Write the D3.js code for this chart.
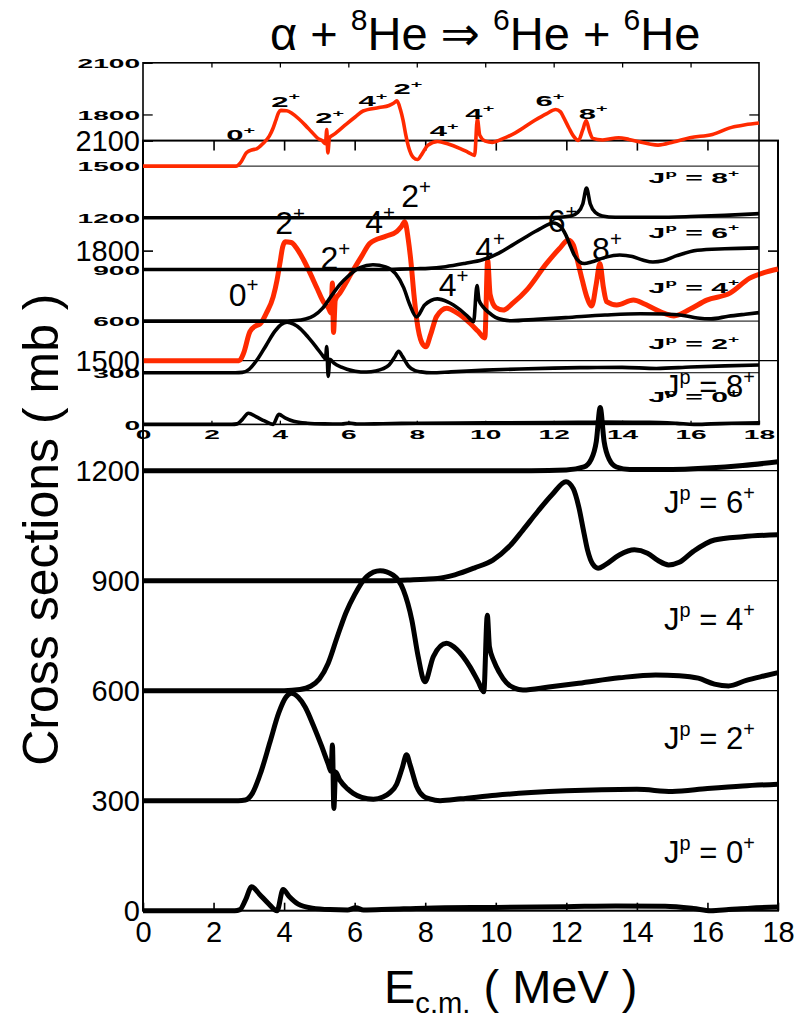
<!DOCTYPE html>
<html><head><meta charset="utf-8">
<script src="https://cdn.jsdelivr.net/npm/d3@7"></script>
<style>body{margin:0;background:#fff}svg{display:block}text{font-family:"Liberation Sans",Arial,"DejaVu Sans",sans-serif;fill:#000}</style>
</head><body><svg id="c" width="803" height="1020"></svg>
<script>
// ---------- data ----------
const energyTicks = [0,2,4,6,8,10,12,14,16,18];
const crossTicks = [0,300,600,900,1200,1500,1800,2100];
const baselines = [300,600,900,1200,1500];

// [E (MeV), sigma (mb, offset)]
const wave0 = [[0,0],[2.6,0],[2.75,3],[2.9,28],[3.08,65],[3.3,45],[3.55,20],[3.8,0],[3.97,58],[4.15,38],[4.4,18],[4.8,7],[5.3,3],[5.8,2],[6.03,8],[6.25,2],[7,4],[8,7],[10,9],[12,11],[13.4,13],[14.8,12],[15.6,6],[16.1,0],[16.6,3],[17.2,7],[18,10]];
const wave2 = [[0,300],[2.7,300],[2.9,302],[3.1,320],[3.35,380],[3.6,460],[3.85,540],[4.05,582],[4.21,593],[4.4,582],[4.6,555],[4.83,505],[5.05,452],[5.25,400],[5.33,380],[5.37,452],[5.41,279],[5.46,378],[5.58,356],[5.8,332],[5.96,320],[6.2,309],[6.53,304],[6.8,310],[7.0,322],[7.19,345],[7.35,390],[7.47,425],[7.58,395],[7.76,338],[7.95,312],[8.13,305],[8.42,300],[9,305],[10,315],[11,322],[12,327],[13,330],[14,331],[15,325],[16,333],[17,340],[18,345]];
const wave4 = [[0,600],[4.0,600],[4.45,603],[4.75,612],[5.0,632],[5.25,675],[5.5,745],[5.75,812],[6.0,862],[6.34,911],[6.72,927],[7.09,915],[7.38,875],[7.62,793],[7.8,693],[7.99,624],[8.23,693],[8.6,729],[8.9,712],[9.27,665],[9.5,625],[9.66,597],[9.76,806],[9.82,720],[9.95,680],[10.1,650],[10.3,622],[10.53,607],[10.77,602],[11.5,610],[12.35,620],[13.5,635],[14.53,643],[15.2,641],[15.74,634],[16.2,618],[16.6,613],[17.1,628],[17.6,640],[18,649]];
const wave6 = [[0,900],[7.0,900],[7.5,902],[8.0,904],[8.35,906],[8.84,916],[9.4,935],[9.92,956],[10.4,995],[10.77,1038],[11.2,1090],[11.6,1135],[11.99,1170],[12.2,1150],[12.35,1102],[12.5,1030],[12.6,984],[12.75,945],[12.9,934],[13.1,943],[13.5,970],[13.93,984],[14.3,975],[14.6,955],[14.9,943],[15.2,950],[15.6,980],[16.2,1011],[17,1020],[18,1025]];
const wave8 = [[0,1200],[11,1200],[12,1202],[12.5,1210],[12.7,1230],[12.85,1280],[12.96,1372],[13.07,1280],[13.22,1230],[13.42,1210],[13.8,1203],[15,1203],[16,1207],[17,1214],[18,1224]];
const total = [[0,1500],[2.72,1500],[2.85,1520],[3.03,1579],[3.2,1595],[3.32,1600],[3.5,1630],[3.69,1674],[3.8,1720],[3.88,1765],[3.96,1810],[4.03,1824],[4.2,1822],[4.36,1806],[4.55,1775],[4.74,1738],[4.93,1698],[5.11,1661],[5.25,1645],[5.33,1630],[5.37,1712],[5.40,1577],[5.45,1665],[5.58,1684],[5.96,1747],[6.2,1785],[6.43,1820],[6.9,1840],[7.19,1852],[7.32,1865],[7.42,1879],[7.52,1830],[7.6,1765],[7.68,1680],[7.76,1611],[7.9,1550],[8.02,1538],[8.15,1570],[8.32,1620],[8.61,1643],[8.9,1630],[9.27,1602],[9.5,1580],[9.69,1562],[9.77,1774],[9.84,1680],[10.0,1645],[10.21,1638],[10.5,1658],[10.88,1693],[11.44,1765],[11.8,1805],[12.06,1829],[12.2,1815],[12.29,1783],[12.45,1720],[12.58,1674],[12.72,1649],[12.85,1710],[12.95,1765],[13.05,1700],[13.14,1661],[13.43,1652],[13.9,1665],[14.2,1655],[14.46,1643],[14.8,1628],[15.05,1622],[15.5,1640],[15.98,1665],[16.64,1684],[17.2,1725],[17.6,1740],[18,1750]];

const waveNames = ["0","2","4","6","8"];
const waveLabelE = 14.77;
const waveLabelS = [130,440,766,1085,1400];
const peakNames = ["0","2","2","4","2","4","4","6","8"];
const peakE = [2.43,3.75,5.03,6.3,7.32,8.38,9.42,11.47,12.73];
const peakS = [1650,1845,1750,1848,1918,1675,1775,1850,1775];

// ---------- drawing ----------
const svg = d3.select("#c");
const RED = "#ff2a00";

function rich(g, px, py, sx, sy, parts, size, anchor, weight) {
  const t = g.append("text")
    .attr("transform", `translate(${px},${py}) scale(${sx},${sy})`)
    .attr("font-size", size).attr("text-anchor", anchor || "start")
    .attr("font-weight", weight || "normal");
  let shift = 0;
  parts.forEach(p => {
    const ts = t.append("tspan").text(p.t);
    let target = 0, fs = size;
    if (p.sup) { target = -size * 0.42; fs = size * 0.64; }
    if (p.sub) { target = size * 0.22; fs = size * 0.62; }
    ts.attr("font-size", fs);
    if (target !== shift) { ts.attr("dy", target - shift); shift = target; }
  });
  return t;
}

function drawLayer(o) {
  const x = d3.scaleLinear().domain([0,18]).range([o.x0, o.x1]);
  const y = d3.scaleLinear().domain([0,2100]).range([o.y0, o.y1]);
  const g = svg.append("g");
  const sx = o.sx, sy = o.sy, fw = o.weight;
  const W = o.x1 - o.x0, H = o.y0 - o.y1;

  // reference lines
  g.selectAll("line.base").data(baselines).join("line")
    .attr("x1", o.x0).attr("x2", o.x1)
    .attr("y1", d => y(d)).attr("y2", d => y(d))
    .attr("stroke", "#000").attr("stroke-width", o.thin);

  // axes (ticks inward)
  const styleAxis = a => { a.select(".domain").remove(); a.selectAll(".tick line").attr("stroke","#000").attr("stroke-width", o.frame*0.8); };
  const left = g.append("g").attr("transform", `translate(${o.x0},0)`)
    .call(d3.axisLeft(y).tickValues(crossTicks).tickSize(-10*sx).tickFormat(d3.format("d")));
  styleAxis(left);
  left.selectAll(".tick text").attr("x", null).attr("dy", null)
    .attr("transform", `translate(${-3*sx},${10*sy}) scale(${sx},${sy})`)
    .attr("font-size", 29).attr("font-family", null).attr("font-weight", fw).attr("fill", "#000").attr("text-anchor", "end");

  const bottom = g.append("g").attr("transform", `translate(0,${o.y0})`)
    .call(d3.axisBottom(x).tickValues(energyTicks).tickSize(-8*sy).tickFormat(d3.format("d")));
  styleAxis(bottom);
  bottom.selectAll(".tick text").attr("y", null).attr("dy", null)
    .attr("transform", `translate(0,${31*sy}) scale(${sx},${sy})`)
    .attr("font-size", 29).attr("font-family", null).attr("font-weight", fw).attr("fill", "#000").attr("text-anchor", "middle");

  const top = g.append("g").attr("transform", `translate(0,${o.y1})`)
    .call(d3.axisTop(x).tickValues(energyTicks.slice(1, -1)).tickSize(-10*sy).tickFormat(""));
  styleAxis(top);
  const right = g.append("g").attr("transform", `translate(${o.x1},0)`)
    .call(d3.axisRight(y).tickValues([1800]).tickSize(-10*sx).tickFormat(""));
  styleAxis(right);

  // frame
  g.append("rect").attr("x", o.x0).attr("y", o.y1).attr("width", W).attr("height", H)
    .attr("fill", "none").attr("stroke", "#000").attr("stroke-width", o.frame);

  // curves
  const line = d3.line().x(d => x(d[0])).y(d => y(d[1])).curve(d3.curveMonotoneX);
  [wave0, wave2, wave4, wave6, wave8].forEach(w => {
    g.append("path").attr("d", line(w)).attr("fill", "none").attr("stroke", "#000")
      .attr("stroke-width", o.curve).attr("stroke-linejoin", "round");
  });
  g.append("path").attr("d", line(total)).attr("fill", "none").attr("stroke", RED)
    .attr("stroke-width", o.curve).attr("stroke-linejoin", "round");

  // labels
  waveNames.forEach((n, i) => {
    rich(g, x(waveLabelE), y(waveLabelS[i]), sx, sy,
      [{t:"J"},{t:"p",sup:true},{t:" = " + n},{t:"+",sup:true}], 31, "start", fw);
  });
  peakNames.forEach((n, i) => {
    rich(g, x(peakE[i]), y(peakS[i]), sx, sy, [{t:n},{t:"+",sup:true}], 32, "start", fw);
  });

  if (o.titles) {
    rich(g, 270, 50, 1, 1, [{t:"α + "},{t:"8",sup:true},{t:"He ⇒ "},{t:"6",sup:true},{t:"He + "},{t:"6",sup:true},{t:"He"}], 47);
    g.append("text").attr("transform", `translate(58,${(o.y0 + o.y1)/2 + 4}) rotate(-90)`)
      .attr("text-anchor", "middle").attr("font-size", 50).text("Cross sections ( mb )");
    rich(g, 384, 1003, 1, 1, [{t:"E"},{t:"c.m.",sub:true},{t:" ( MeV )"}], 47);
  }
}

// full-size figure
drawLayer({x0:143, x1:778, y0:910.7, y1:140.6, sx:1, sy:1, curve:5, thin:1.3, frame:2, titles:true, weight:"normal"});
// squeezed overlaid copy
drawLayer({x0:143, x1:759, y0:424.4, y1:62.8, sx:0.97, sy:0.4696, curve:3.6, thin:1, frame:1.6, titles:false, weight:"bold"});
</script></body></html>
